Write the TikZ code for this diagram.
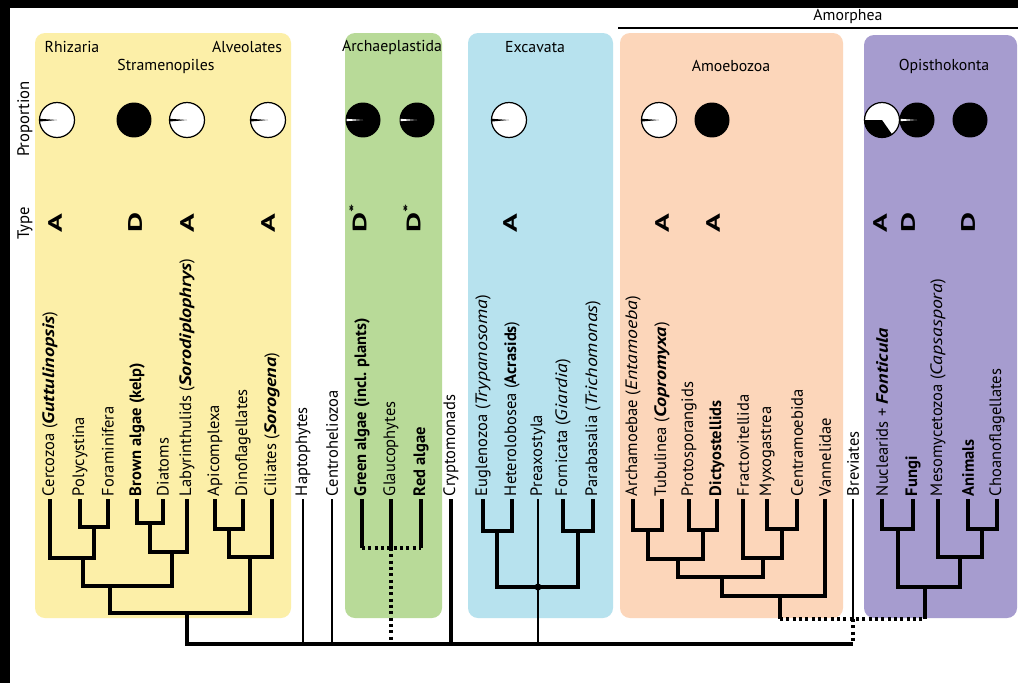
\documentclass[tikz,border=0pt]{standalone}
\usepackage{fontspec}
\setmainfont{PT Sans}[ItalicFeatures={FakeStretch=1.2},
  BoldItalicFeatures={FakeStretch=1.22}]
\usepackage{xcolor}
\usepackage{tikz}
\usetikzlibrary{calc}

\definecolor{sarY}{RGB}{252,239,168}
\definecolor{archG}{RGB}{184,218,152}
\definecolor{excB}{RGB}{183,226,238}
\definecolor{amoO}{RGB}{252,214,186}
\definecolor{opiP}{RGB}{166,156,207}

\begin{document}
\begin{tikzpicture}[
  x=0.02cm, y=-0.02cm,
  grp/.style={font=\fontsize{9}{10}\selectfont},
  rowlbl/.style={font=\fontsize{9.5}{10}\selectfont, rotate=90},
  leaf/.style={font=\fontsize{9.4}{10}\selectfont, rotate=90,
    anchor=west, inner sep=1.5pt},
  typ/.style={font=\fontsize{11}{12}\selectfont\bfseries, rotate=90,
    xscale=1.6, anchor=west, inner sep=0pt},
  box/.style={rounded corners=0.2cm},
  br/.style={line width=2.3pt},
  thinbr/.style={line width=1.5pt},
  mainbr/.style={line width=2.6pt},
  dots/.style={line width=1.8pt, dash pattern=on 1.8pt off 1.8pt},
]

\useasboundingbox (0,0) rectangle (1018,683);
\fill[black] (0,0) rectangle (1018,683);
\fill[white] (10,8) rectangle (1018,683);

% group boxes
\fill[sarY, box] (35,33) rectangle (291,618);
\fill[archG, box] (345,33) rectangle (442,618);
\fill[excB, box] (468,33) rectangle (613,618);
\fill[amoO, box] (620,33) rectangle (843,618);
\fill[opiP, box] (864,35) rectangle (1017,618);

\node[grp] (amorph) at (848,16) {Amorphea};
\draw[line width=1.1pt] (618,28) -- (1018,28);

\node[grp] (rhiz) at (72,47) {Rhizaria};
\node[grp] (stram) at (166,66) {Stramenopiles};
\node[grp] (alveo) at (247,47) {Alveolates};
\node[grp] (archae) at (392,47) {Archaeplastida};
\node[grp] (excav) at (535,47) {Excavata};
\node[grp] (amoeb) at (731,66) {Amoebozoa};
\node[grp] (opist) at (944,66) {Opisthokonta};

\node[rowlbl] (prop) at (25,119) {Proportion};
\node[rowlbl] (type) at (25,223) {Type};

% proportion pies
\foreach \px in {57,187,268,509,659}{
  \filldraw[fill=white, draw=black, line width=0.7pt] (\px,120) circle[radius=0.35cm];
  \fill (\px,120) -- ++(176:0.35cm) arc[start angle=176, end angle=185, radius=0.35cm] -- cycle;
}
\foreach \px in {363,417,917}{
  \fill (\px,120) circle[radius=0.35cm];
  \fill[white] (\px,120) -- ++(176:0.33cm) arc[start angle=176, end angle=184, radius=0.33cm] -- cycle;
}
\foreach \px in {134,712,970}{
  \fill (\px,120) circle[radius=0.35cm];
}
\filldraw[fill=white, draw=black, line width=0.7pt] (882,120) circle[radius=0.35cm];
\fill (882,120) -- ++(180:0.35cm) arc[start angle=180, end angle=305, radius=0.35cm] -- cycle;

% type letters
\foreach \px/\lt in {55/A, 135/D, 187/A, 268/A, 510/A, 662/A, 713/A, 880/A, 908/D, 968/D}{
  \node[typ] at (\px,233) {\lt};
}
\foreach \px in {358,412}{
  \node[typ] at (\px,233) {D\textsuperscript{*}};
}

% taxa
\foreach \nm/\x/\txt in {
  cerc/50/{Cercozoa (\textbf{\textit{Guttulinopsis}})},
  poly/80/{Polycystina},
  fora/108/{Foraminifera},
  brow/137/{\textbf{Brown algae (kelp)}},
  diat/163/{Diatoms},
  laby/187/{Labyrinthulids (\textbf{\textit{Sorodiplophrys}})},
  apic/215/{Apicomplexa},
  dino/243/{Dinoflagellates},
  cili/272/{Ciliates (\textbf{\textit{Sorogena}})},
  hapt/303/{Haptophytes},
  cent/332/{Centroheliozoa},
  gree/362/{\textbf{Green algae (incl. plants)}},
  glau/391/{Glaucophytes},
  reda/421/{\textbf{Red algae}},
  cryp/451/{Cryptomonads},
  eugl/483/{Euglenozoa (\textit{Trypanosoma})},
  hete/512/{Heterolobosea (\textbf{Acrasids})},
  prea/538/{Preaxostyla},
  forn/563/{Fornicata (\textit{Giardia})},
  para/593/{Parabasalia (\textit{Trichomonas})},
  arca/633/{Archamoebae (\textit{Entamoeba})},
  tubu/662/{Tubulinea (\textbf{\textit{Copromyxa}})},
  prot/689/{Protosporangids},
  dict/717/{\textbf{Dictyostellids}},
  frac/743/{Fractovitellida},
  myxo/767/{Myxogastrea},
  cntr/797/{Centramoebida},
  vann/825/{Vannelidae},
  brev/853/{Breviates},
  nucl/882/{Nuclearids + \textbf{\textit{Fonticula}}},
  fung/913/{\textbf{Fungi}},
  meso/938/{Mesomycetozoa (\textit{Capsaspora})},
  anim/968/{\textbf{Animals}},
  choa/997/{Choanoflagellates}}{
  \node[leaf] (\nm) at (\x,499) {\txt};
}

% tree junctions
\coordinate (pf) at (94,527);
\coordinate (rhz) at (83,558);
\coordinate (bd) at (150,523);
\coordinate (stra) at (172,552);
\coordinate (rs) at (110,586);
\coordinate (ad) at (229,529);
\coordinate (alv) at (250,557);
\coordinate (sar) at (187,613);
\coordinate (root) at (187,644);
\coordinate (arch) at (391,548);
\coordinate (eh) at (497,531);
\coordinate (fp) at (578,531);
\coordinate (exc) at (538,587);
\coordinate (at) at (648,530);
\coordinate (pd) at (703,530);
\coordinate (atpd) at (678,559);
\coordinate (mc) at (782,529);
\coordinate (fmc) at (763,558);
\coordinate (amA) at (722,577);
\coordinate (amo) at (780,596);
\coordinate (amoS) at (780,619);
\coordinate (nf) at (898,529);
\coordinate (ac) at (982,529);
\coordinate (mac) at (960,557);
\coordinate (opi) at (925,587);
\coordinate (opiS) at (925,619);

% SAR
\draw[br] (poly.west) |- (pf) -| (fora.west);
\draw[br] (cerc.west) |- (rhz) -| (pf);
\draw[br] (brow.west) |- (bd) -| (diat.west);
\draw[br] (bd) |- (stra) -| (laby.west);
\draw[br] (rhz) |- (rs) -| (stra);
\draw[br] (apic.west) |- (ad) -| (dino.west);
\draw[br] (ad) |- (alv) -| (cili.west);
\draw[br] (rs) |- (sar) -| (alv);
\draw[mainbr] (sar) -- (root) -- (root -| brev.west);

\draw[thinbr] (hapt.west) -- (hapt.west |- root);
\draw[thinbr] (cent.west) -- (cent.west |- root);
\draw[br] (cryp.west) -- (cryp.west |- root);

% Archaeplastida
\draw[br] (gree.west) -- (gree.west |- arch);
\draw[line width=2.8pt] (glau.west) -- (arch);
\draw[br] (reda.west) -- (reda.west |- arch);
\draw[dots] (gree.west |- arch) -- (reda.west |- arch);
\draw[dots] (arch) -- (arch |- root);

% Excavata
\draw[br] (eugl.west) |- (eh) -| (hete.west);
\draw[br] (forn.west) |- (fp) -| (para.west);
\draw[br] (eh) |- (exc) -| (fp);
\draw[thinbr] (prea.west) -- (prea.west |- root);
\fill (exc) circle[radius=2pt];

% Amoebozoa
\draw[br] (arca.west) |- (at) -| (tubu.west);
\draw[br] (prot.west) |- (pd) -| (dict.west);
\draw[br] (at) |- (atpd) -| (pd);
\draw[br] (myxo.west) |- (mc) -| (cntr.west);
\draw[br] (frac.west) |- (fmc) -| (mc);
\draw[br] (atpd) |- (amA) -| (fmc);
\draw[br] (amA) |- (amo) -| (vann.west);
\draw[br] (amo) -- (amoS);

% Opisthokonta
\draw[br] (nucl.west) |- (nf) -| (fung.west);
\draw[br] (anim.west) |- (ac) -| (choa.west);
\draw[br] (meso.west) |- (mac) -| (ac);
\draw[br] (nf) |- (opi) -| (mac);
\draw[br] (opi) -- (opiS);

% Amorphea
\draw[dots] (amoS) -- (opiS);
\draw[thinbr] (brev.west) -- (brev.west |- amoS);
\draw[dots] (brev.west |- amoS) -- (brev.west |- root);

\end{tikzpicture}
\end{document}
